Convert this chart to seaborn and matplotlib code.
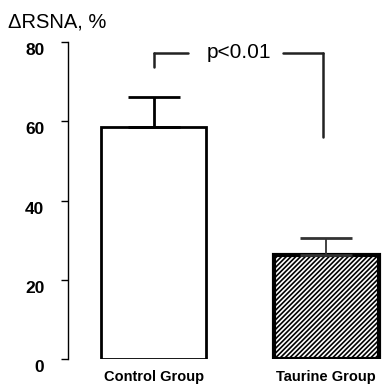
import matplotlib
matplotlib.use("Agg")
import matplotlib.pyplot as plt
import matplotlib.transforms as mtransforms
import seaborn as sns
import pandas as pd

groups = ["Control Group", "Taurine Group"]
means = [58.5, 26.2]
sem_upper = [7.6, 4.3]
yticks = [0, 20, 40, 60, 80]
ylabel = "ΔRSNA, %"
p_text = "p<0.01"

sns.set_style("white")
plt.rcParams['font.family'] = ['Liberation Sans', 'DejaVu Sans']
plt.rcParams['hatch.linewidth'] = 1.2
plt.rcParams['text.color'] = 'black'
plt.rcParams['xtick.color'] = 'black'
plt.rcParams['ytick.color'] = 'black'
plt.rcParams['xtick.labelcolor'] = 'black'
plt.rcParams['ytick.labelcolor'] = 'black'

df = pd.DataFrame({"group": groups, "value": means})

fig = plt.figure(figsize=(3.83, 3.87), dpi=100)
ax = fig.add_axes([68/383, 28/387, 1 - 68/383, 317/387])

sns.barplot(data=df, x="group", y="value", ax=ax, width=0.61,
            color="white", edgecolor="black", linewidth=2, errorbar=None)

bars = ax.patches
bars[1].set_hatch("///////")
bars[1].set_linewidth(3)

# upper-only error bars
ax.errorbar([0], [means[0]], yerr=[[0], [sem_upper[0]]], fmt="none",
            ecolor="black", elinewidth=2, capsize=18.5, capthick=2, zorder=1)
ax.errorbar([1], [means[1]], yerr=[[0], [sem_upper[1]]], fmt="none",
            ecolor="#333333", elinewidth=1.3, capsize=18.5, capthick=2, zorder=1)

# significance bracket
ytop = 77.3
ax.plot([0, 0], [73.7, ytop], color="#222222", lw=1.8, clip_on=False)
ax.plot([0, 0.2], [ytop, ytop], color="#222222", lw=1.8, clip_on=False)
ax.plot([0.75, 0.98], [ytop, ytop], color="#222222", lw=1.8, clip_on=False)
ax.plot([0.98, 0.98], [ytop, 56.0], color="#222222", lw=1.8, clip_on=False)
ax.text(0.495, ytop, p_text, ha="center", va="center", fontsize=15,
        color="black")

ax.set_xlim(-0.497, 1.33)
ax.set_ylim(0, 80)
ax.set_yticks(yticks)
ax.set_yticklabels([str(t) for t in yticks], fontsize=12.5, fontweight="bold")
ax.tick_params(axis="y", direction="out", length=5, width=1, pad=12, left=True,
               colors="black")
ax.tick_params(axis="x", length=0, pad=8, colors="black")
for lbl in ax.get_xticklabels():
    lbl.set_fontweight("bold")
    lbl.set_fontsize(10.5)
offset = mtransforms.ScaledTranslation(0, -7/100, fig.dpi_scale_trans)
for lbl in ax.get_yticklabels():
    lbl.set_transform(lbl.get_transform() + offset)

ax.set_xlabel("")
ax.set_ylabel("")
for s in ["top", "right", "bottom"]:
    ax.spines[s].set_visible(False)
ax.spines["left"].set_color("black")
ax.spines["left"].set_linewidth(1)

fig.text(8/383, 1 - 22/387, ylabel, ha="left", va="center", fontsize=14.5,
         color="black")

fig.savefig("out.png", dpi=100)
